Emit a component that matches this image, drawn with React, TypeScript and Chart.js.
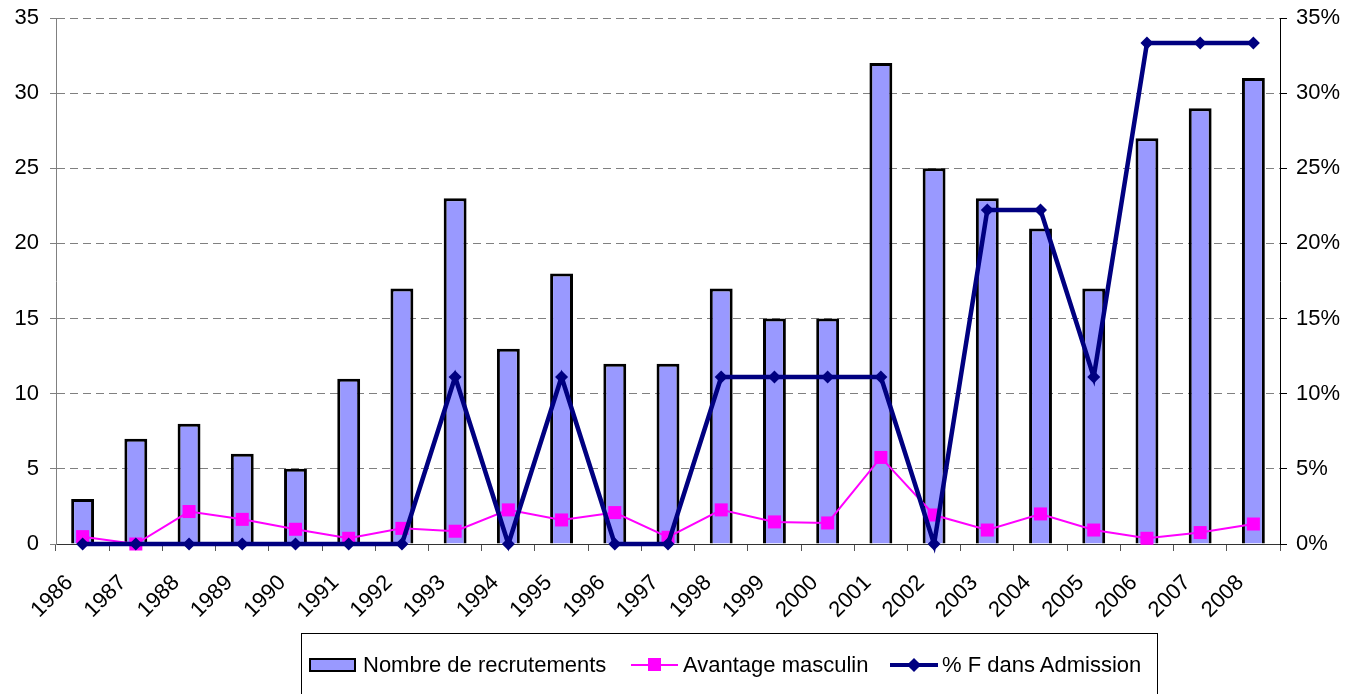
import React, { useEffect, useRef } from "react";
import { Chart, registerables } from "chart.js";

Chart.register(...registerables);

const years = ["1986","1987","1988","1989","1990","1991","1992","1993","1994","1995","1996","1997","1998","1999","2000","2001","2002","2003","2004","2005","2006","2007","2008"];
const recrutements = [3,7,8,6,5,11,17,23,13,18,12,12,17,15,15,32,25,23,21,17,27,29,31];
const avantageMasculin = [0.49,0,2.16,1.64,0.98,0.38,1.04,0.85,2.27,1.6,2.09,0.45,2.27,1.47,1.4,5.76,1.93,0.93,2.0,0.93,0.38,0.76,1.33];
const pctFAdmission = [0,0,0,0,0,0,0,11.11,0,11.11,0,0,11.11,11.11,11.11,11.11,0,22.22,22.22,11.11,33.33,33.33,33.33];
const leftTicks = [0,5,10,15,20,25,30,35];

const FONT = "'Liberation Sans', Arial, sans-serif";

export default function App() {
  const ref = useRef<HTMLCanvasElement | null>(null);
  useEffect(() => {
    const canvas = ref.current!;
    const chart = new Chart(canvas, {
      type: "bar",
      data: {
        labels: years,
        datasets: [
          {
            type: "line",
            label: "% F dans Admission",
            data: pctFAdmission,
            yAxisID: "y1",
            borderColor: "#000080",
            backgroundColor: "#000080",
            borderWidth: 4.5,
            pointStyle: "rectRot",
            pointRadius: 6.5,
            pointBorderWidth: 0,
            tension: 0,
            order: 0,
            clip: false,
          } as any,
          {
            type: "line",
            label: "Avantage masculin",
            data: avantageMasculin,
            yAxisID: "y",
            borderColor: "#FF00FF",
            backgroundColor: "#FF00FF",
            borderWidth: 2,
            pointStyle: "rect",
            pointRadius: 9.2,
            pointBorderWidth: 0,
            tension: 0,
            order: 1,
            clip: false,
          } as any,
          {
            type: "bar",
            label: "Nombre de recrutements",
            data: recrutements,
            yAxisID: "y",
            backgroundColor: "#9999FF",
            borderColor: "#000000",
            borderWidth: 3,
            barPercentage: 0.43,
            categoryPercentage: 1,
            order: 2,
          } as any,
        ],
      },
      options: {
        responsive: false,
        animation: false,
        devicePixelRatio: 1,
        layout: { padding: { top: 18, left: 0, right: 0, bottom: 0 } },
        plugins: { legend: { display: false }, tooltip: { enabled: false } },
        scales: {
          x: {
            offset: true,
            grid: {
              offset: true,
              drawOnChartArea: false,
              drawTicks: true,
              tickLength: 7,
              color: "#555555",
            },
            border: { color: "#333333", width: 1 },
            ticks: {
              autoSkip: false,
              minRotation: 45,
              maxRotation: 45,
              color: "#000000",
              font: { family: FONT, size: 22 },
              padding: 19,
              labelOffset: -13,
            },
            afterFit: (s: any) => { s.height = 150; s.paddingLeft = 0; s.paddingRight = 0; },
          },
          y: {
            position: "left",
            min: 0,
            max: 35,
            afterBuildTicks: (s: any) => { s.ticks = leftTicks.map((v) => ({ value: v })); },
            grid: {
              color: "#808080",
              tickLength: 6,
              tickColor: "#808080",
              tickBorderDash: [],
            },
            border: { color: "#808080", width: 1, dash: [8, 5] },
            ticks: {
              color: "#000000",
              font: { family: FONT, size: 22 },
              padding: 11,
            },
            afterFit: (s: any) => { s.width = 56; s.paddingTop = 0; s.paddingBottom = 0; },
          },
          y1: {
            position: "right",
            min: 0,
            max: 35,
            afterBuildTicks: (s: any) => { s.ticks = leftTicks.map((v) => ({ value: v })); },
            grid: {
              drawOnChartArea: false,
              tickLength: 7,
              color: "#000000",
            },
            border: { color: "#000000", width: 1 },
            ticks: {
              color: "#000000",
              font: { family: FONT, size: 22 },
              padding: 9,
              callback: (v: any) => v + "%",
            },
            afterFit: (s: any) => { s.width = 70; s.paddingTop = 0; s.paddingBottom = 0; },
          },
        },
      },
    });
    return () => chart.destroy();
  }, []);

  const textStyle: React.CSSProperties = {
    position: "absolute",
    top: 652,
    fontFamily: FONT,
    fontSize: 22,
    lineHeight: "26px",
    color: "#000",
    whiteSpace: "nowrap",
  };

  return (
    <div style={{ position: "fixed", left: 0, top: 0, width: 1350, height: 694, overflow: "hidden", background: "#fff" }}>
      <canvas ref={ref} width={1350} height={694} style={{ display: "block", width: 1350, height: 694 }} />
      <div style={{ position: "absolute", left: 301, top: 633, width: 857, height: 90, border: "1px solid #000", boxSizing: "border-box" }} />
      <div style={{ position: "absolute", left: 309, top: 658, width: 47, height: 14, background: "#9999FF", border: "2px solid #000", boxSizing: "border-box" }} />
      <div style={{ ...textStyle, left: 363 }}>Nombre de recrutements</div>
      <div style={{ position: "absolute", left: 631, top: 664, width: 47, height: 2, background: "#FF00FF" }} />
      <div style={{ position: "absolute", left: 648, top: 658, width: 13, height: 13, background: "#FF00FF" }} />
      <div style={{ ...textStyle, left: 683 }}>Avantage masculin</div>
      <div style={{ position: "absolute", left: 890, top: 663, width: 48, height: 4, background: "#000080" }} />
      <div style={{ position: "absolute", left: 909, top: 660, width: 10, height: 10, background: "#000080", transform: "rotate(45deg)" }} />
      <div style={{ ...textStyle, left: 942 }}>% F dans Admission</div>
    </div>
  );
}
